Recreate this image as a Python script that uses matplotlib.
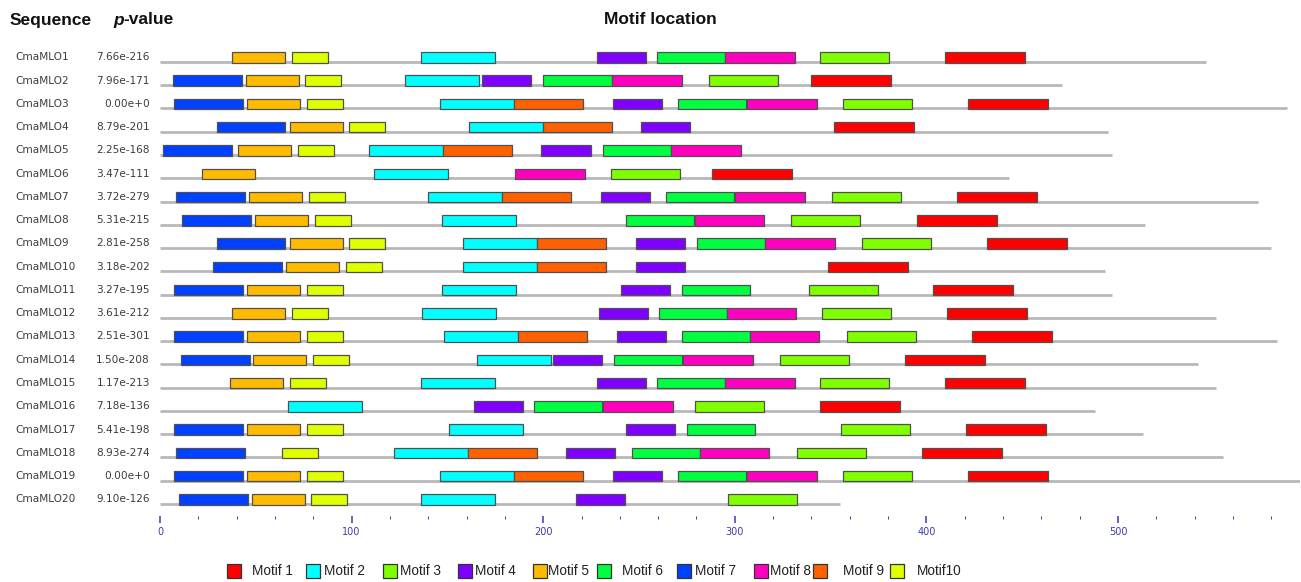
import matplotlib
matplotlib.use("Agg")
import matplotlib.pyplot as plt
from matplotlib.patches import Rectangle
from matplotlib import transforms as mtransforms
from matplotlib.ticker import MultipleLocator

# ---------------- data ----------------
sequences = [f"CmaMLO{i}" for i in range(1, 21)]
pvalues = ["7.66e-216", "7.96e-171", "0.00e+0", "8.79e-201", "2.25e-168",
           "3.47e-111", "3.72e-279", "5.31e-215", "2.81e-258", "3.18e-202",
           "3.27e-195", "3.61e-212", "2.51e-301", "1.50e-208", "1.17e-213",
           "7.18e-136", "5.41e-198", "8.93e-274", "0.00e+0", "9.10e-126"]
seq_lengths = [546, 471, 588, 495, 497, 443, 573, 514, 580, 493,
               497, 551, 583, 542, 551, 488, 513, 555, 596, 355]

motif_names = ["Motif 1", "Motif 2", "Motif 3", "Motif 4", "Motif 5",
               "Motif 6", "Motif 7", "Motif 8", "Motif 9", "Motif10"]
motif_widths = [41.8, 38.6, 35.9, 25.8, 27.8, 35.7, 35.8, 36.3, 36.0, 18.9]

N = None
motif1_start = [409.7, 339.8, 421.7, 351.8, N, 288.1, 416.0, 395.1, 431.6, 348.6,
                403.4, 410.8, 423.8, 388.8, 409.7, 344.5, 420.7, 397.7, 421.7, N]
motif2_start = [136.2, 127.9, 146.1, 161.3, 109.1, 111.7, 139.9, 147.2, 158.1, 158.1,
                147.2, 136.7, 148.2, 165.4, 136.2, 66.8, 150.8, 122.1, 146.1, 136.2]
motif3_start = [344.5, 286.5, 356.5, N, N, 235.4, 350.7, 329.3, 366.4, N,
                338.7, 345.5, 358.6, 323.6, 344.5, 279.2, 355.4, 332.5, 356.5, 296.5]
motif4_start = [228.0, 168.0, 236.4, 251.0, 198.9, N, 230.2, N, 248.4, 248.4,
                240.6, 229.1, 238.5, 205.1, 228.0, 163.9, 243.2, 211.9, 236.4, 217.1]
motif5_start = [37.6, 44.9, 45.4, 67.8, 40.7, 21.9, 46.5, 49.6, 67.8, 65.8,
                45.4, 37.6, 45.4, 48.5, 36.5, N, 45.4, N, 45.4, 48.0]
motif6_start = [259.4, 200.0, 270.4, N, 231.2, N, 264.1, 243.2, 280.3, N,
                272.4, 260.4, 272.4, 237.0, 259.4, 195.2, 275.0, 246.3, 270.4, N]
motif7_start = [N, 6.8, 7.3, 29.7, 1.6, N, 8.4, 11.5, 29.7, 27.7,
                7.3, N, 7.3, 11.0, N, N, 7.3, 8.4, 7.3, 9.9]
motif8_start = [294.9, 235.9, 306.4, N, 266.7, 185.3, 300.1, 279.2, 315.8, N,
                N, 295.9, 307.9, 273.0, 294.9, 231.2, N, 281.8, 306.4, N]
motif9_start = [N, N, 184.8, 199.9, 147.7, N, 178.5, N, 196.8, 196.8,
                N, N, 186.8, N, N, N, N, 160.8, 184.8, N]
motif10_start = [68.9, 75.7, 76.7, 98.6, 72.0, N, 77.8, 80.9, 98.6, 97.1,
                 76.7, 68.9, 76.7, 79.9, 67.8, N, 76.7, 63.7, 76.7, 78.8]

motif_starts = [motif1_start, motif2_start, motif3_start, motif4_start, motif5_start,
                motif6_start, motif7_start, motif8_start, motif9_start, motif10_start]

motif_colors = ["#ff0000", "#00ffff", "#80ff00", "#7f00ff", "#ffbb00",
                "#00ff40", "#0040ff", "#ff00bf", "#ff6000", "#e0ff00"]

# ---------------- figure ----------------
W, H = 1301, 582
fig = plt.figure(figsize=(W / 100, H / 100), dpi=100)
fig.patch.set_facecolor("white")


def fx(px):
    return px / W


def fy(py):
    return 1 - py / H


ax_left, ax_right = 160, 1300
ax_top, ax_bottom = 38.7, 515.6
ax = fig.add_axes([fx(ax_left), fy(ax_bottom), (ax_right - ax_left) / W,
                   (ax_bottom - ax_top) / H])
ax.set_xlim(0, 595)
ax.set_ylim(19.5, -1)
for s in ax.spines.values():
    s.set_visible(False)
ax.set_yticks([])

bar_h = 0.45
bar_drop = 0.03
for i in range(len(sequences)):
    ax.plot([0, seq_lengths[i]], [i, i], color="#b8b8b8", lw=2.0,
            solid_capstyle="butt", zorder=1)
for m, starts in enumerate(motif_starts):
    for i, st in enumerate(starts):
        if st is None:
            continue
        ax.add_patch(Rectangle((st, i + bar_drop - bar_h), motif_widths[m], bar_h,
                               facecolor=motif_colors[m], edgecolor="#505050",
                               lw=0.9, zorder=3))

# x axis ticks
ax.xaxis.set_major_locator(MultipleLocator(100))
ax.xaxis.set_minor_locator(MultipleLocator(20))
ax.tick_params(axis="x", which="major", direction="out", length=5, width=1.1,
               color="#3a3ab0", labelcolor="#3a3ab0", labelsize=7, pad=3)
ax.tick_params(axis="x", which="minor", direction="out", length=2, width=0.7,
               color="#3a3ab0")
for lab in ax.get_xticklabels():
    lab.set_fontfamily("DejaVu Sans")

# row labels
trans = mtransforms.blended_transform_factory(fig.transFigure, ax.transData)
for i, (name, pv) in enumerate(zip(sequences, pvalues)):
    ax.text(fx(15), i - 0.2, name, transform=trans, ha="left", va="center",
            fontsize=7.6, color="#3c3c3c", family="DejaVu Sans")
    ax.text(fx(150), i - 0.2, pv, transform=trans, ha="right", va="center",
            fontsize=7.6, color="#3c3c3c", family="DejaVu Sans")

# headers
hdr = dict(fontsize=12.5, fontweight="bold", family="Liberation Sans",
           color="#111111")
fig.text(fx(10), fy(20), "Sequence", ha="left", va="center", **hdr)
tp = fig.text(fx(113), fy(20), "p", ha="left", va="center", fontstyle="italic", **hdr)
fig.canvas.draw()
ax.annotate("-value", xy=(1, 0), xycoords=tp, ha="left", va="bottom",
            annotation_clip=False, **hdr)
fig.text(fx(660), fy(20), "Motif location", ha="center", va="center", **hdr)

# legend
sq_left = [227, 306, 383, 458, 533, 597, 677, 754, 813, 890]
txt_left = [252, 324, 400, 475, 548, 622, 695, 770, 843, 917]
sq = 14
for m in range(len(motif_names)):
    fig.add_artist(Rectangle((fx(sq_left[m]), fy(571 + sq / 2)), sq / W, sq / H,
                             transform=fig.transFigure, facecolor=motif_colors[m],
                             edgecolor="#333333", lw=0.9))
    fig.text(fx(txt_left[m]), fy(571), motif_names[m], ha="left", va="center",
             fontsize=9.8, family="Liberation Sans", color="#222222")

fig.savefig("out.png", dpi=100, facecolor="white")
